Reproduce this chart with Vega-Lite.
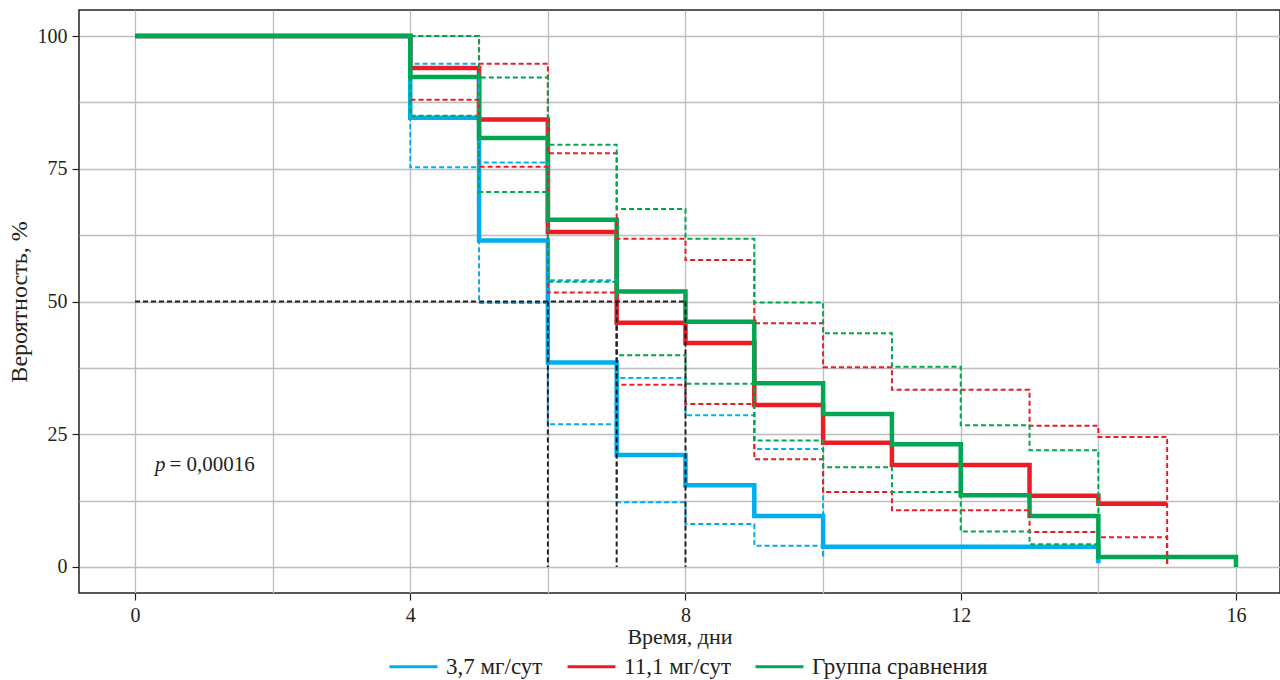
{
  "$schema": "https://vega.github.io/schema/vega-lite/v6.json",
  "width": 1201,
  "height": 583,
  "autosize": {"type": "none"},
  "padding": {"left": 79, "top": 10, "right": 0, "bottom": 87},
  "background": "white",
  "config": {
    "font": "'Liberation Serif', 'Times New Roman', Times, serif",
    "view": {"stroke": "#231f20", "strokeWidth": 1.5},
    "axis": {
      "labelFont": "'Liberation Serif', 'Times New Roman', Times, serif", "titleFont": "'Liberation Serif', 'Times New Roman', Times, serif",
      "labelFontSize": 20, "titleFontSize": 24, "titleFontWeight": "normal",
      "labelColor": "#231f20", "titleColor": "#231f20",
      "domain": false, "tickColor": "#231f20", "tickSize": 7, "tickWidth": 1.2,
      "gridColor": "#bdbdbd", "gridWidth": 1.3, "gridOpacity": 1,
      "labelPadding": 5
    },
    "legend": {
      "labelFont": "'Liberation Serif', 'Times New Roman', Times, serif", "labelFontSize": 23, "labelColor": "#231f20", "labelLimit": 400
    }
  },
  "datasets": {
    "km": [
      {"g": "3,7 мг/сут", "k": "est", "i": 0, "t": 0, "v": 100},
      {"g": "3,7 мг/сут", "k": "est", "i": 1, "t": 4, "v": 84.6},
      {"g": "3,7 мг/сут", "k": "est", "i": 2, "t": 5, "v": 61.5},
      {"g": "3,7 мг/сут", "k": "est", "i": 3, "t": 6, "v": 38.5},
      {"g": "3,7 мг/сут", "k": "est", "i": 4, "t": 7, "v": 21.1},
      {"g": "3,7 мг/сут", "k": "est", "i": 5, "t": 8, "v": 15.4},
      {"g": "3,7 мг/сут", "k": "est", "i": 6, "t": 9, "v": 9.6},
      {"g": "3,7 мг/сут", "k": "est", "i": 7, "t": 10, "v": 3.8},
      {"g": "3,7 мг/сут", "k": "est", "i": 8, "t": 14, "v": 0.7},

      {"g": "3,7 мг/сут", "k": "upper", "i": 0, "t": 4, "v": 100},
      {"g": "3,7 мг/сут", "k": "upper", "i": 1, "t": 4, "v": 94.8},
      {"g": "3,7 мг/сут", "k": "upper", "i": 2, "t": 5, "v": 76.2},
      {"g": "3,7 мг/сут", "k": "upper", "i": 3, "t": 6, "v": 54.0},
      {"g": "3,7 мг/сут", "k": "upper", "i": 4, "t": 7, "v": 35.6},
      {"g": "3,7 мг/сут", "k": "upper", "i": 5, "t": 8, "v": 28.6},
      {"g": "3,7 мг/сут", "k": "upper", "i": 6, "t": 9, "v": 22.2},
      {"g": "3,7 мг/сут", "k": "upper", "i": 7, "t": 10, "v": 1.5},

      {"g": "3,7 мг/сут", "k": "lower", "i": 0, "t": 4, "v": 100},
      {"g": "3,7 мг/сут", "k": "lower", "i": 1, "t": 4, "v": 75.3},
      {"g": "3,7 мг/сут", "k": "lower", "i": 2, "t": 5, "v": 49.7},
      {"g": "3,7 мг/сут", "k": "lower", "i": 3, "t": 6, "v": 26.9},
      {"g": "3,7 мг/сут", "k": "lower", "i": 4, "t": 7, "v": 12.2},
      {"g": "3,7 мг/сут", "k": "lower", "i": 5, "t": 8, "v": 8.1},
      {"g": "3,7 мг/сут", "k": "lower", "i": 6, "t": 9, "v": 4.0},
      {"g": "3,7 мг/сут", "k": "lower", "i": 7, "t": 10, "v": 1.5},

      {"g": "11,1 мг/сут", "k": "est", "i": 0, "t": 0, "v": 100},
      {"g": "11,1 мг/сут", "k": "est", "i": 1, "t": 4, "v": 94.0},
      {"g": "11,1 мг/сут", "k": "est", "i": 2, "t": 5, "v": 84.3},
      {"g": "11,1 мг/сут", "k": "est", "i": 3, "t": 6, "v": 63.1},
      {"g": "11,1 мг/сут", "k": "est", "i": 4, "t": 7, "v": 46.0},
      {"g": "11,1 мг/сут", "k": "est", "i": 5, "t": 8, "v": 42.2},
      {"g": "11,1 мг/сут", "k": "est", "i": 6, "t": 9, "v": 30.5},
      {"g": "11,1 мг/сут", "k": "est", "i": 7, "t": 10, "v": 23.4},
      {"g": "11,1 мг/сут", "k": "est", "i": 8, "t": 11, "v": 19.2},
      {"g": "11,1 мг/сут", "k": "est", "i": 9, "t": 13, "v": 13.4},
      {"g": "11,1 мг/сут", "k": "est", "i": 10, "t": 14, "v": 11.9},
      {"g": "11,1 мг/сут", "k": "est", "i": 11, "t": 15, "v": 11.9},

      {"g": "11,1 мг/сут", "k": "upper", "i": 0, "t": 4, "v": 100},
      {"g": "11,1 мг/сут", "k": "upper", "i": 1, "t": 5, "v": 94.8},
      {"g": "11,1 мг/сут", "k": "upper", "i": 2, "t": 6, "v": 77.9},
      {"g": "11,1 мг/сут", "k": "upper", "i": 3, "t": 7, "v": 61.8},
      {"g": "11,1 мг/сут", "k": "upper", "i": 4, "t": 8, "v": 57.8},
      {"g": "11,1 мг/сут", "k": "upper", "i": 5, "t": 9, "v": 45.9},
      {"g": "11,1 мг/сут", "k": "upper", "i": 6, "t": 10, "v": 37.6},
      {"g": "11,1 мг/сут", "k": "upper", "i": 7, "t": 11, "v": 33.4},
      {"g": "11,1 мг/сут", "k": "upper", "i": 8, "t": 13, "v": 26.6},
      {"g": "11,1 мг/сут", "k": "upper", "i": 9, "t": 14, "v": 24.5},
      {"g": "11,1 мг/сут", "k": "upper", "i": 10, "t": 15, "v": 0},

      {"g": "11,1 мг/сут", "k": "lower", "i": 0, "t": 4, "v": 100},
      {"g": "11,1 мг/сут", "k": "lower", "i": 1, "t": 4, "v": 88.0},
      {"g": "11,1 мг/сут", "k": "lower", "i": 2, "t": 5, "v": 75.4},
      {"g": "11,1 мг/сут", "k": "lower", "i": 3, "t": 6, "v": 51.7},
      {"g": "11,1 мг/сут", "k": "lower", "i": 4, "t": 7, "v": 34.3},
      {"g": "11,1 мг/сут", "k": "lower", "i": 5, "t": 8, "v": 30.7},
      {"g": "11,1 мг/сут", "k": "lower", "i": 6, "t": 9, "v": 20.3},
      {"g": "11,1 мг/сут", "k": "lower", "i": 7, "t": 10, "v": 14.1},
      {"g": "11,1 мг/сут", "k": "lower", "i": 8, "t": 11, "v": 10.7},
      {"g": "11,1 мг/сут", "k": "lower", "i": 9, "t": 13, "v": 6.6},
      {"g": "11,1 мг/сут", "k": "lower", "i": 10, "t": 14, "v": 5.6},
      {"g": "11,1 мг/сут", "k": "lower", "i": 11, "t": 15, "v": 0},

      {"g": "Группа сравнения", "k": "est", "i": 0, "t": 0, "v": 100},
      {"g": "Группа сравнения", "k": "est", "i": 1, "t": 4, "v": 92.3},
      {"g": "Группа сравнения", "k": "est", "i": 2, "t": 5, "v": 80.8},
      {"g": "Группа сравнения", "k": "est", "i": 3, "t": 6, "v": 65.4},
      {"g": "Группа сравнения", "k": "est", "i": 4, "t": 7, "v": 51.9},
      {"g": "Группа сравнения", "k": "est", "i": 5, "t": 8, "v": 46.2},
      {"g": "Группа сравнения", "k": "est", "i": 6, "t": 9, "v": 34.6},
      {"g": "Группа сравнения", "k": "est", "i": 7, "t": 10, "v": 28.8},
      {"g": "Группа сравнения", "k": "est", "i": 8, "t": 11, "v": 23.1},
      {"g": "Группа сравнения", "k": "est", "i": 9, "t": 12, "v": 13.5},
      {"g": "Группа сравнения", "k": "est", "i": 10, "t": 13, "v": 9.6},
      {"g": "Группа сравнения", "k": "est", "i": 11, "t": 14, "v": 1.9},
      {"g": "Группа сравнения", "k": "est", "i": 12, "t": 16, "v": 0},

      {"g": "Группа сравнения", "k": "upper", "i": 0, "t": 4, "v": 100},
      {"g": "Группа сравнения", "k": "upper", "i": 1, "t": 5, "v": 92.2},
      {"g": "Группа сравнения", "k": "upper", "i": 2, "t": 6, "v": 79.5},
      {"g": "Группа сравнения", "k": "upper", "i": 3, "t": 7, "v": 67.4},
      {"g": "Группа сравнения", "k": "upper", "i": 4, "t": 8, "v": 61.8},
      {"g": "Группа сравнения", "k": "upper", "i": 5, "t": 9, "v": 49.8},
      {"g": "Группа сравнения", "k": "upper", "i": 6, "t": 10, "v": 44.0},
      {"g": "Группа сравнения", "k": "upper", "i": 7, "t": 11, "v": 37.7},
      {"g": "Группа сравнения", "k": "upper", "i": 8, "t": 12, "v": 26.7},
      {"g": "Группа сравнения", "k": "upper", "i": 9, "t": 13, "v": 22.0},
      {"g": "Группа сравнения", "k": "upper", "i": 10, "t": 14, "v": 4.3},

      {"g": "Группа сравнения", "k": "lower", "i": 0, "t": 4, "v": 100},
      {"g": "Группа сравнения", "k": "lower", "i": 1, "t": 4, "v": 85.0},
      {"g": "Группа сравнения", "k": "lower", "i": 2, "t": 5, "v": 70.6},
      {"g": "Группа сравнения", "k": "lower", "i": 3, "t": 6, "v": 53.7},
      {"g": "Группа сравнения", "k": "lower", "i": 4, "t": 7, "v": 39.9},
      {"g": "Группа сравнения", "k": "lower", "i": 5, "t": 8, "v": 34.5},
      {"g": "Группа сравнения", "k": "lower", "i": 6, "t": 9, "v": 23.8},
      {"g": "Группа сравнения", "k": "lower", "i": 7, "t": 10, "v": 18.8},
      {"g": "Группа сравнения", "k": "lower", "i": 8, "t": 11, "v": 14.1},
      {"g": "Группа сравнения", "k": "lower", "i": 9, "t": 12, "v": 6.7},
      {"g": "Группа сравнения", "k": "lower", "i": 10, "t": 13, "v": 4.3},
      {"g": "Группа сравнения", "k": "lower", "i": 11, "t": 14, "v": 4.3}
    ],
    "med": [
      {"x": 0, "x2": 8, "y": 50, "y2": 50},
      {"x": 6, "x2": 6, "y": 50, "y2": 0},
      {"x": 7, "x2": 7, "y": 50, "y2": 0},
      {"x": 8, "x2": 8, "y": 50, "y2": 0}
    ]
  },
  "layer": [
    {
      "data": {"name": "km"},
      "transform": [{"filter": "datum.k === 'est'"}],
      "mark": {"type": "line", "interpolate": "step-after", "strokeWidth": 4.5, "strokeCap": "butt", "strokeJoin": "miter"},
      "encoding": {
        "x": {"field": "t", "type": "quantitative",
              "scale": {"domain": [-0.814, 16.64], "nice": false, "zero": false},
              "axis": {"title": "Время, дни", "titleFontSize": 22, "values": [0, 2, 4, 6, 8, 10, 12, 14, 16], "format": "d",
                       "labelExpr": "datum.value % 4 === 0 ? datum.label : ''",
                       "tickOpacity": {"condition": {"test": "datum.value % 4 !== 0", "value": 0}, "value": 1},
                       "titlePadding": 1}},
        "y": {"field": "v", "type": "quantitative",
              "scale": {"domain": [-4.9, 104.9], "nice": false, "zero": false},
              "axis": {"title": "Вероятность, %", "values": [0, 12.5, 25, 37.5, 50, 62.5, 75, 87.5, 100],
                       "labelExpr": "datum.value % 25 === 0 ? format(datum.value, 'd') : ''",
                       "tickOpacity": {"condition": {"test": "datum.value % 25 !== 0", "value": 0}, "value": 1},
                       "titlePadding": 6}},
        "color": {"field": "g", "type": "nominal",
                  "scale": {"domain": ["3,7 мг/сут", "11,1 мг/сут", "Группа сравнения"], "range": ["#00AEEF", "#ED1C24", "#00A651"]},
                  "legend": {"title": null, "orient": "none", "legendX": 309, "legendY": 631, "direction": "horizontal", "symbolType": "stroke",
                             "symbolSize": 2300, "symbolStrokeWidth": 3, "symbolDash": [], "columnPadding": 18, "labelOffset": 7, "padding": 0, "labelLimit": 400}},
        "order": {"field": "i", "type": "quantitative"}
      }
    },
    {
      "data": {"name": "km"},
      "transform": [{"filter": "datum.k !== 'est'"}],
      "mark": {"type": "line", "interpolate": "step-after", "strokeWidth": 2, "strokeDash": [5, 3]},
      "encoding": {
        "x": {"field": "t", "type": "quantitative"},
        "y": {"field": "v", "type": "quantitative"},
        "color": {"field": "g", "type": "nominal", "legend": null},
        "detail": {"field": "k"},
        "order": {"field": "i", "type": "quantitative"}
      }
    },
    {
      "data": {"name": "med"},
      "mark": {"type": "rule", "color": "#231f20", "strokeWidth": 2, "strokeDash": [5, 3]},
      "encoding": {
        "x": {"field": "x", "type": "quantitative"},
        "x2": {"field": "x2"},
        "y": {"field": "y", "type": "quantitative"},
        "y2": {"field": "y2"}
      }
    },
    {
      "data": {"values": [{"x": 0.29, "y": 19.2, "s": "p"}]},
      "mark": {"type": "text", "align": "left", "baseline": "middle", "font": "'Liberation Serif', 'Times New Roman', Times, serif", "fontSize": 21, "fontStyle": "italic", "color": "#231f20"},
      "encoding": {
        "x": {"field": "x", "type": "quantitative"},
        "y": {"field": "y", "type": "quantitative"},
        "text": {"field": "s"}
      }
    },
    {
      "data": {"values": [{"x": 0.5, "y": 19.2, "s": "= 0,00016"}]},
      "mark": {"type": "text", "align": "left", "baseline": "middle", "font": "'Liberation Serif', 'Times New Roman', Times, serif", "fontSize": 21, "color": "#231f20"},
      "encoding": {
        "x": {"field": "x", "type": "quantitative"},
        "y": {"field": "y", "type": "quantitative"},
        "text": {"field": "s"}
      }
    }
  ]
}
